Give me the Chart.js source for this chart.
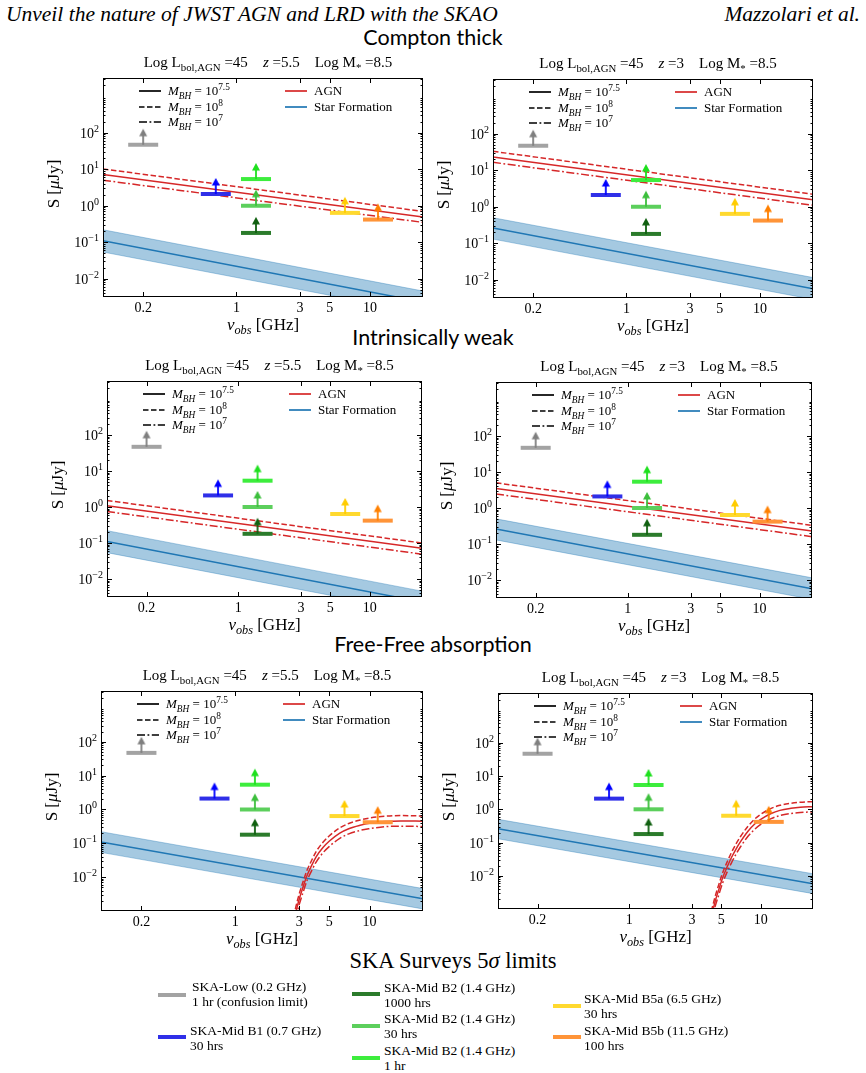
<!DOCTYPE html>
<html>
<head>
<meta charset="utf-8">
<script src="https://cdn.jsdelivr.net/npm/chart.js@4.4.1/dist/chart.umd.min.js"></script>
<style>
  body { margin: 0; background: #fff; }
  #page { position: relative; width: 866px; height: 1073px; overflow: hidden;
          font-family: "Liberation Serif", "DejaVu Serif", serif; color: #000; }
  .abs { position: absolute; white-space: nowrap; }
  canvas, svg { position: absolute; display: block; }
  sub, sup { font-size: 72%; line-height: 0; }
  .hdr { font-style: italic; font-size: 21.5px; top: 2px; }
  .sect { font-family: Lato, "Open Sans", sans-serif; font-size: 21.5px; left: 0; width: 866px; text-align: center; }
  .ptitle { font-size: 15px; }
  .axt { font-size: 17px; }
  .leg { font-size: 13px; }
  .blg { font-size: 13.5px; line-height: 15px; }
</style>
</head>
<body>
<div id="page">
  <div class="abs hdr" style="left:6px">Unveil the nature of JWST AGN and LRD with the SKAO</div>
  <div class="abs hdr" style="right:6px">Mazzolari et al.</div>
  <div class="abs sect" style="top:24px">Compton thick</div>
  <div class="abs sect" style="top:324px">Intrinsically weak</div>
  <div class="abs sect" style="top:631px">Free-Free absorption</div>
  <div class="abs" style="left:0;width:906px;text-align:center;top:948px;font-size:22.5px">SKA Surveys 5<i>σ</i> limits</div>
</div>
<script>
// ---- data ----
const nuEnds = [0.1, 25];                 // GHz, ends of the power-law lines

// AGN power laws: S at 0.1 GHz and at 25 GHz (uJy)
const agnSolidCT55 = [7.2, 0.49];
const agnDashedCT55 = [10.2, 0.70];
const agnDashdotCT55 = [5.0, 0.35];
const agnSolidCT3 = [23, 1.55];
const agnDashedCT3 = [33, 2.2];
const agnDashdotCT3 = [16.5, 1.1];
const agnSolidIW55 = [1.09, 0.071];
const agnDashedIW55 = [1.52, 0.10];
const agnDashdotIW55 = [0.75, 0.049];
const agnSolidIW3 = [3.5, 0.23];
const agnDashedIW3 = [5.0, 0.33];
const agnDashdotIW3 = [2.45, 0.16];

// star formation line and band
const sfCenter55 = [0.11, 0.0023];
const sfUpper55 = [0.22, 0.0046];
const sfLower55 = [0.054, 0.00115];
const sfCenter3 = [0.26, 0.0057];
const sfUpper3 = [0.5, 0.0115];
const sfLower3 = [0.13, 0.0029];

// free-free absorbed AGN
const ffNu55 = [2.8, 2.9, 3.0, 3.2, 3.4, 3.7, 4.0, 4.5, 5.0, 6.0, 7.0, 8.5, 10, 13, 17, 25];
const ffSolid55 = [0.0008, 0.0014, 0.0023, 0.0052, 0.0105, 0.022, 0.04, 0.075, 0.115, 0.2, 0.27, 0.34, 0.39, 0.44, 0.46, 0.45];
const ffDashed55 = [0.00114, 0.002, 0.0033, 0.0074, 0.015, 0.031, 0.057, 0.107, 0.164, 0.286, 0.386, 0.486, 0.558, 0.63, 0.66, 0.64];
const ffDashdot55 = [0.00056, 0.00098, 0.0016, 0.0036, 0.0074, 0.0154, 0.028, 0.0525, 0.08, 0.14, 0.19, 0.24, 0.27, 0.31, 0.32, 0.315];
const ffNu3 = [4.2, 4.35, 4.5, 4.8, 5.1, 5.5, 6.0, 6.5, 7.0, 8.0, 9.0, 10, 12, 14, 17, 20, 25];
const ffSolid3 = [0.0006, 0.001, 0.0017, 0.0039, 0.0082, 0.017, 0.036, 0.065, 0.105, 0.22, 0.36, 0.5, 0.75, 0.93, 1.07, 1.15, 1.2];
const ffDashed3 = [0.00085, 0.00142, 0.0024, 0.0055, 0.0116, 0.024, 0.051, 0.092, 0.149, 0.31, 0.51, 0.71, 1.065, 1.32, 1.52, 1.63, 1.7];
const ffDashdot3 = [0.00042, 0.0007, 0.0012, 0.0027, 0.0057, 0.012, 0.025, 0.0455, 0.0735, 0.154, 0.25, 0.35, 0.525, 0.65, 0.75, 0.8, 0.84];

// SKA survey 5 sigma limits
const surveyLabels = ['SKA-Low (0.2 GHz)', 'SKA-Mid B1 (0.7 GHz)', 'SKA-Mid B2 (1.4 GHz)', 'SKA-Mid B2 (1.4 GHz)',
                      'SKA-Mid B2 (1.4 GHz)', 'SKA-Mid B5a (6.5 GHz)', 'SKA-Mid B5b (11.5 GHz)'];
const surveyTimes = ['1 hr (confusion limit)', '30 hrs', '1 hr', '30 hrs', '1000 hrs', '30 hrs', '100 hrs'];
const surveyNu = [0.2, 0.7, 1.4, 1.4, 1.4, 6.5, 11.5];
const surveyLimit = [47, 2.1, 5.4, 1.0, 0.18, 0.64, 0.42];
const surveyBarColors = ['#a3a3a3', '#2f2fe8', '#3ded3d', '#5ccf5c', '#2b7b2b', '#ffd92e', '#ff9438'];
const surveyArrowColors = ['#7f7f7f', '#0000ff', '#1ee01e', '#3cbf3c', '#106010', '#ffcc00', '#ff8000'];

// axes
const xTicks = [0.2, 1, 3, 5, 10];
const xTickLabels = ['0.2', '1', '3', '5', '10'];
const yTickExp = [-2, -1, 0, 1, 2];

const RED = '#d62728', BLUE = '#1f77b4', BAND = 'rgba(31,119,180,0.4)';
const DASH = [5.5, 2.5], DASHDOT = [8, 2.5, 1.8, 2.5];
const page = document.getElementById('page');

function pairs(xs, ys) { return xs.map((x, i) => ({ x: x, y: ys[i] })); }

function limitMarker(barColor, arrowColor) {
  const c = document.createElement('canvas');
  c.width = 32; c.height = 36;
  const g = c.getContext('2d');
  g.strokeStyle = barColor; g.lineWidth = 4;
  g.beginPath(); g.moveTo(1, 18); g.lineTo(31, 18); g.stroke();
  g.strokeStyle = arrowColor; g.lineWidth = 1.8;
  g.beginPath(); g.moveTo(16, 18); g.lineTo(16, 9); g.stroke();
  g.fillStyle = arrowColor;
  g.beginPath(); g.moveTo(12, 9.5); g.lineTo(20, 9.5); g.lineTo(16, 2); g.closePath(); g.fill();
  return c;
}
const markers = surveyNu.map((_, i) => limitMarker(surveyBarColors[i], surveyArrowColors[i]));

function line(d, color, dash, extra) {
  return Object.assign({ data: d, showLine: true, borderColor: color, borderWidth: 1.5,
    borderDash: dash || [], pointRadius: 0, fill: false }, extra || {});
}

const axesFrame = {
  id: 'axesFrame',
  afterDraw(chart) {
    const { ctx, chartArea: a, scales: { x, y } } = chart;
    const seg = (x1, y1, x2, y2) => { ctx.beginPath(); ctx.moveTo(x1, y1); ctx.lineTo(x2, y2); ctx.stroke(); };
    ctx.save();
    ctx.strokeStyle = '#000'; ctx.lineWidth = 1;
    ctx.strokeRect(a.left + 0.5, a.top + 0.5, a.right - a.left - 1, a.bottom - a.top - 1);
    xTicks.forEach(v => {
      const px = Math.round(x.getPixelForValue(v)) + 0.5;
      seg(px, a.bottom, px, a.bottom - 5);
      seg(px, a.top, px, a.top + 5);
    });
    const lo = Math.floor(Math.log10(y.min)), hi = Math.ceil(Math.log10(y.max));
    for (let n = lo; n <= hi; n++) {
      for (let k = 2; k <= 9; k++) {
        const v = k * Math.pow(10, n);
        if (v <= y.min || v >= y.max) continue;
        const py = Math.round(y.getPixelForValue(v)) + 0.5;
        seg(a.left, py, a.left + 2.5, py);
        seg(a.right, py, a.right - 2.5, py);
      }
    }
    ctx.fillStyle = '#000';
    yTickExp.forEach(e => {
      const py = y.getPixelForValue(Math.pow(10, e));
      const p = Math.round(py) + 0.5;
      seg(a.left, p, a.left + 5, p);
      seg(a.right, p, a.right - 5, p);
      const sup = e < 0 ? '\u2212' + (-e) : String(e);
      ctx.font = '10px "Liberation Serif", serif';
      const sw = ctx.measureText(sup).width;
      ctx.font = '14px "Liberation Serif", serif';
      const bw = ctx.measureText('10').width;
      const xr = a.left - 4;
      ctx.textBaseline = 'alphabetic'; ctx.textAlign = 'left';
      ctx.fillText('10', xr - sw - bw, py + 5);
      ctx.font = '10px "Liberation Serif", serif';
      ctx.fillText(sup, xr - sw, py - 1);
    });
    ctx.font = '14px "Liberation Serif", serif';
    ctx.textAlign = 'center';
    xTicks.forEach((v, i) => ctx.fillText(xTickLabels[i], x.getPixelForValue(v), a.bottom + 15));
    ctx.restore();
  }
};

function addDiv(html, cls, x, y, tf) {
  const d = document.createElement('div');
  d.className = 'abs ' + cls;
  d.innerHTML = html;
  d.style.left = x + 'px'; d.style.top = y + 'px';
  d.style.transform = tf;
  page.appendChild(d);
  return d;
}
function sample(x, y, color, dash) {
  const ns = 'http://www.w3.org/2000/svg';
  const s = document.createElementNS(ns, 'svg');
  s.setAttribute('width', '22'); s.setAttribute('height', '4');
  s.style.left = x + 'px'; s.style.top = (y - 2) + 'px';
  const l = document.createElementNS(ns, 'line');
  l.setAttribute('x1', '0'); l.setAttribute('y1', '2'); l.setAttribute('x2', '22'); l.setAttribute('y2', '2');
  l.setAttribute('stroke', color); l.setAttribute('stroke-width', '1.7');
  if (dash && dash.length) l.setAttribute('stroke-dasharray', dash.join(','));
  s.appendChild(l);
  page.appendChild(s);
}

const PL = 72, PT = 10, PR = 12, PB = 52;

function panel(box, agn, sf, yMin, zText) {
  const L = box[0], T = box[1], R = box[2], B = box[3];
  const cv = document.createElement('canvas');
  const w = R - L + PL + PR, h = B - T + PT + PB;
  cv.width = w; cv.height = h;
  cv.style.left = (L - PL) + 'px'; cv.style.top = (T - PT) + 'px';
  cv.style.width = w + 'px'; cv.style.height = h + 'px';
  page.appendChild(cv);

  const datasets = [
    { data: pairs(surveyNu, surveyLimit), pointStyle: markers, pointRadius: 5, showLine: false },
    line(agn[1], RED, DASH, agn.curve),
    line(agn[0], RED, [], agn.curve),
    line(agn[2], RED, DASHDOT, agn.curve),
    line(pairs(nuEnds, sf[0]), BLUE, []),
    line(pairs(nuEnds, sf[1]), 'rgba(31,119,180,0.45)', [], { borderWidth: 0.8, fill: '+1', backgroundColor: BAND }),
    line(pairs(nuEnds, sf[2]), 'rgba(31,119,180,0.45)', [], { borderWidth: 0.8 })
  ];

  new Chart(cv.getContext('2d'), {
    type: 'scatter',
    data: { datasets: datasets },
    options: {
      responsive: false, animation: false, events: [],
      layout: { padding: { left: 0, top: PT, right: PR, bottom: 0 } },
      plugins: { legend: { display: false }, tooltip: { enabled: false } },
      scales: {
        x: { type: 'logarithmic', min: 0.1, max: 25, grid: { display: false, drawTicks: false },
             border: { display: false }, ticks: { display: false }, afterFit: s => { s.height = PB; } },
        y: { type: 'logarithmic', min: yMin, max: Math.pow(10, 3.5), grid: { display: false, drawTicks: false },
             border: { display: false }, ticks: { display: false }, afterFit: s => { s.width = PL; } }
      }
    },
    plugins: [axesFrame]
  });

  const cx = (L + R) / 2;
  addDiv('Log L<sub>bol,AGN</sub> =45 &nbsp;&nbsp;&nbsp;<i>z</i> =' + zText + ' &nbsp;&nbsp;&nbsp;Log M<sub>*</sub> =8.5',
    'ptitle', cx + 5, T - 16, 'translate(-50%,-50%)');
  addDiv('<i>ν<sub>obs</sub></i> [GHz]', 'axt', cx, B + 28, 'translate(-50%,-50%)');
  addDiv('S [<i>μ</i>Jy]', 'axt', L - 49, (T + B) / 2 - 4, 'translate(-50%,-50%) rotate(-90deg)');

  // in-plot legend
  const rows = [T + 13, T + 28.5, T + 44];
  sample(L + 36, rows[0], '#000', []);
  sample(L + 36, rows[1], '#000', DASH);
  sample(L + 36, rows[2], '#000', DASHDOT);
  addDiv('<i>M<sub>BH</sub></i> = 10<sup>7.5</sup>', 'leg', L + 65, rows[0], 'translate(0,-50%)');
  addDiv('<i>M<sub>BH</sub></i> = 10<sup>8</sup>', 'leg', L + 65, rows[1], 'translate(0,-50%)');
  addDiv('<i>M<sub>BH</sub></i> = 10<sup>7</sup>', 'leg', L + 65, rows[2], 'translate(0,-50%)');
  sample(L + 182, rows[0], RED, []);
  sample(L + 182, rows[1], BLUE, []);
  addDiv('AGN', 'leg', L + 211, rows[0], 'translate(0,-50%)');
  addDiv('Star Formation', 'leg', L + 211, rows[1], 'translate(0,-50%)');
}

function straight(s, d, dd) {
  return [pairs(nuEnds, s), pairs(nuEnds, d), pairs(nuEnds, dd)];
}
function curved(nu, s, d, dd) {
  const a = [pairs(nu, s), pairs(nu, d), pairs(nu, dd)];
  a.curve = { cubicInterpolationMode: 'monotone' };
  return a;
}

const Y_TOP = Math.pow(10, -2.5), Y_BOT = 0.001;
panel([103, 78, 423, 297], straight(agnSolidCT55, agnDashedCT55, agnDashdotCT55), [sfCenter55, sfUpper55, sfLower55], Y_TOP, '5.5');
panel([493, 79, 813, 298], straight(agnSolidCT3, agnDashedCT3, agnDashdotCT3), [sfCenter3, sfUpper3, sfLower3], Y_TOP, '3');
panel([107, 381, 422, 597], straight(agnSolidIW55, agnDashedIW55, agnDashdotIW55), [sfCenter55, sfUpper55, sfLower55], Y_TOP, '5.5');
panel([496, 382, 812, 598], straight(agnSolidIW3, agnDashedIW3, agnDashdotIW3), [sfCenter3, sfUpper3, sfLower3], Y_TOP, '3');
panel([101, 691, 423, 911], curved(ffNu55, ffSolid55, ffDashed55, ffDashdot55), [sfCenter55, sfUpper55, sfLower55], Y_BOT, '5.5');
panel([498, 693, 813, 909], curved(ffNu3, ffSolid3, ffDashed3, ffDashdot3), [sfCenter3, sfUpper3, sfLower3], Y_BOT, '3');

// bottom legend: [swatch x, swatch y, text x, first text line y]
const legendSlots = [[158, 995, 192, 986], [158, 1037, 190, 1030], [352, 1058, 384, 1050], [352, 1026, 384, 1018.5],
                     [352, 994, 384, 987], [553, 1006, 584, 998.5], [553, 1037, 584, 1030]];
surveyLabels.forEach((lab, i) => {
  const s = legendSlots[i];
  const sw = document.createElement('div');
  sw.className = 'abs';
  sw.style.cssText = 'left:' + s[0] + 'px;top:' + (s[1] - 2) + 'px;width:28px;height:4px;background:' + surveyBarColors[i];
  page.appendChild(sw);
  addDiv(lab + '<br>' + surveyTimes[i], 'blg', s[2], s[3] - 7.5, 'none');
});
</script>
</body>
</html>
